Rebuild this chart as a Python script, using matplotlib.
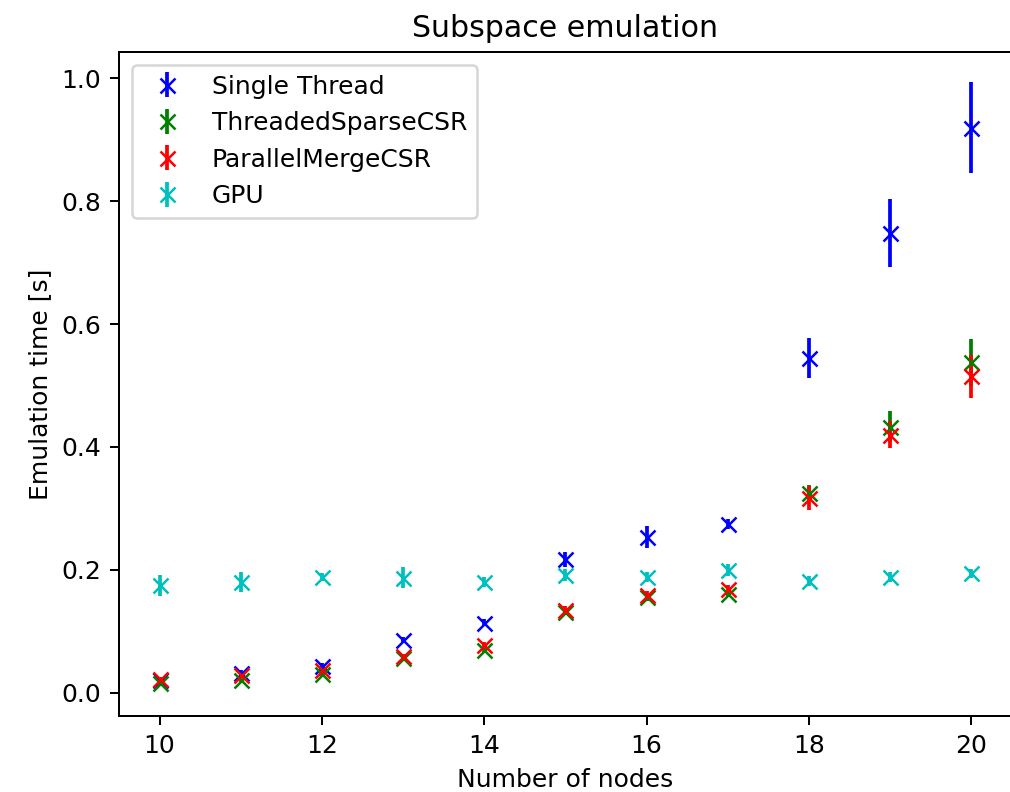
import matplotlib
matplotlib.use("Agg")
import matplotlib.pyplot as plt
import numpy as np

nodes = [10, 11, 12, 13, 14, 15, 16, 17, 18, 19, 20]

single_mean = [0.020, 0.032, 0.044, 0.086, 0.114, 0.217, 0.253, 0.274, 0.545, 0.748, 0.920]
single_err = [0.004, 0.004, 0.004, 0.005, 0.005, 0.012, 0.018, 0.008, 0.033, 0.055, 0.074]

threaded_mean = [0.015, 0.020, 0.030, 0.056, 0.070, 0.132, 0.155, 0.161, 0.325, 0.433, 0.538]
threaded_err = [0.004, 0.004, 0.004, 0.004, 0.004, 0.006, 0.006, 0.006, 0.013, 0.025, 0.038]

merge_mean = [0.022, 0.028, 0.036, 0.059, 0.078, 0.135, 0.159, 0.169, 0.317, 0.420, 0.515]
merge_err = [0.004, 0.004, 0.004, 0.004, 0.004, 0.006, 0.006, 0.006, 0.020, 0.022, 0.035]

gpu_mean = [0.175, 0.180, 0.188, 0.187, 0.180, 0.192, 0.188, 0.200, 0.182, 0.188, 0.194]
gpu_err = [0.017, 0.017, 0.006, 0.017, 0.008, 0.010, 0.008, 0.010, 0.008, 0.008, 0.008]

series = [
    ("Single Thread", single_mean, single_err, "bx"),
    ("ThreadedSparseCSR", threaded_mean, threaded_err, "gx"),
    ("ParallelMergeCSR", merge_mean, merge_err, "rx"),
    ("GPU", gpu_mean, gpu_err, "cx"),
]

DPI = 180
fig = plt.figure(figsize=(1011 / DPI, 792 / DPI), dpi=DPI)
ax = fig.add_axes([119 / 1011, 1 - 716 / 792, 893 / 1011, 664 / 792])

for label, mean, err, fmt in series:
    ax.errorbar(nodes, mean, yerr=err, fmt=fmt, label=label)

ax.set_title("Subspace emulation")
ax.set_xlabel("Number of nodes")
ax.set_ylabel("Emulation time [s]")
ax.legend(loc="upper left")

fig.savefig("out.png", dpi=DPI)
